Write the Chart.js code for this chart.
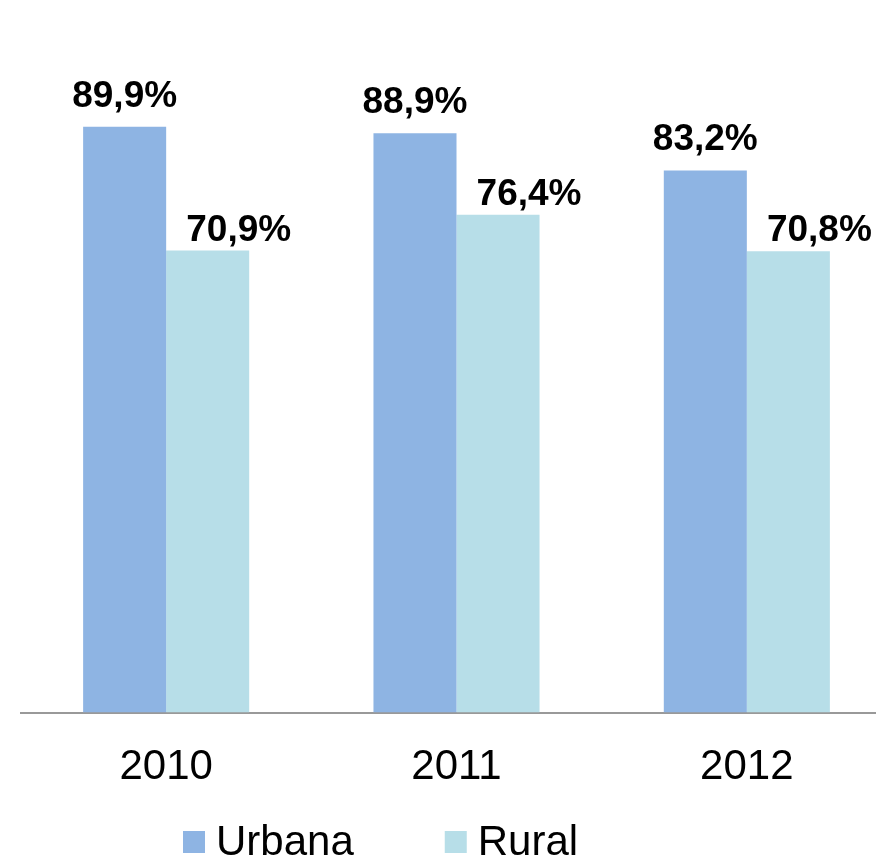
<!DOCTYPE html>
<html>
<head>
<meta charset="utf-8">
<script src="https://cdn.jsdelivr.net/npm/chart.js@4"></script>
<style>
  html, body { margin: 0; padding: 0; overflow: hidden; background: #fff; width: 876px; height: 859px; }
  canvas { display: block; }
</style>
</head>
<body>
<canvas id="c" width="900" height="859"></canvas>
<script>
const categories = ['2010', '2011', '2012'];
const urbana = [89.9, 88.9, 83.2];
const rural = [70.9, 76.4, 70.8];
const seriesNames = ['Urbana', 'Rural'];

const FONT = '"Liberation Sans", Arial, sans-serif';

function fmt(v) { return v.toFixed(1).replace('.', ',') + '%'; }

const labelPlugin = {
  id: 'valueLabels',
  afterDatasetsDraw(chart) {
    const ctx = chart.ctx;
    ctx.save();
    ctx.font = 'bold 37px ' + FONT;
    ctx.fillStyle = '#000';
    ctx.textAlign = 'center';
    ctx.textBaseline = 'alphabetic';
    chart.data.datasets.forEach((ds, di) => {
      const meta = chart.getDatasetMeta(di);
      const dx = di === 0 ? 0 : 31;
      const gap = di === 0 ? 20 : 10;
      meta.data.forEach((bar, i) => {
        ctx.fillText(fmt(ds.data[i]), bar.x + dx, bar.y - gap);
      });
    });
    ctx.restore();
  }
};

const legendPlugin = {
  id: 'customLegend',
  afterDraw(chart) {
    const ctx = chart.ctx;
    ctx.save();
    ctx.font = '42px ' + FONT;
    ctx.textBaseline = 'alphabetic';
    ctx.textAlign = 'left';
    let x = 183;
    const boxTop = 831, box = 22, baseline = 855;
    chart.data.datasets.forEach((ds) => {
      ctx.fillStyle = ds.backgroundColor;
      ctx.fillRect(x, boxTop, box, box);
      ctx.fillStyle = '#000';
      ctx.fillText(ds.label, x + box + 11, baseline);
      x += box + 11 + ctx.measureText(ds.label).width + 91;
    });
    ctx.restore();
  }
};

new Chart(document.getElementById('c'), {
  type: 'bar',
  data: {
    labels: categories,
    datasets: [
      { label: seriesNames[0], data: urbana, backgroundColor: '#8EB4E3' },
      { label: seriesNames[1], data: rural, backgroundColor: '#B7DEE8' }
    ]
  },
  options: {
    responsive: false,
    animation: false,
    devicePixelRatio: 1,
    layout: { padding: { left: 21, right: 8, top: 61, bottom: 36 } },
    datasets: { bar: { categoryPercentage: 0.572, barPercentage: 1.0, borderWidth: 0 } },
    plugins: { legend: { display: false }, tooltip: { enabled: false } },
    scales: {
      x: {
        grid: { display: false, drawTicks: false },
        border: { display: true, color: '#999999', width: 2 },
        ticks: { color: '#000', font: { family: FONT, size: 42 }, padding: 30 }
      },
      y: {
        display: false,
        min: 0,
        max: 100
      }
    }
  },
  plugins: [labelPlugin, legendPlugin]
});
</script>
</body>
</html>
